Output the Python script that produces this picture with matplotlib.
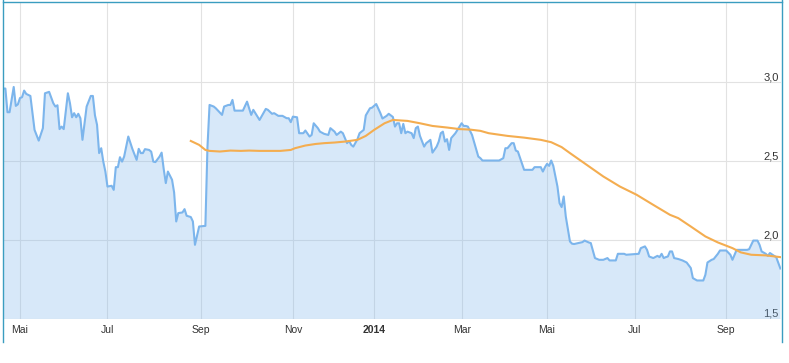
import numpy as np
import matplotlib
matplotlib.use("Agg")
import matplotlib.pyplot as plt
from matplotlib.lines import Line2D

plt.rcParams['font.family'] = ['Liberation Sans', 'DejaVu Sans']

# x axis runs in trading sessions (Xetra calendar) counted from the first bar
start = '2013-04-19'
holidays = ['2013-05-01', '2013-12-24', '2013-12-25', '2013-12-26', '2013-12-31',
            '2014-01-01', '2014-04-18', '2014-04-21', '2014-05-01']

month_starts = ['2013-05-01', '2013-07-01', '2013-09-01', '2013-11-01', '2014-01-01',
                '2014-03-01', '2014-05-01', '2014-07-01', '2014-09-01']
month_labels = ['Mai', 'Jul', 'Sep', 'Nov', '2014', 'Mar', 'Mai', 'Jul', 'Sep']

y_ticks = [1.5, 2.0, 2.5, 3.0]

# (session, close)
close = [
    (0, 2.96), (1, 2.96), (2, 2.81), (3, 2.81), (5, 2.97), (6, 2.85), (7, 2.86), (8, 2.90),
    (9, 2.905), (10, 2.947), (11, 2.926), (13, 2.913), (15, 2.698), (17, 2.63), (19, 2.709),
    (20, 2.93), (22, 2.939), (24, 2.867), (25, 2.846), (26, 2.854), (27, 2.703), (28, 2.719),
    (29, 2.703), (31, 2.93), (32, 2.867), (33, 2.778), (34, 2.804), (35, 2.778), (36, 2.80),
    (37, 2.772), (38, 2.635), (40, 2.846), (42, 2.913), (43, 2.913), (44, 2.79), (45, 2.73),
    (46, 2.551), (47, 2.582), (48, 2.497), (49, 2.434), (50, 2.339), (52, 2.344), (53, 2.318),
    (54, 2.462), (55, 2.462), (56, 2.525), (57, 2.497), (58, 2.529), (60, 2.656), (62, 2.576),
    (64, 2.508), (65, 2.578), (66, 2.551), (67, 2.551), (68, 2.576), (70, 2.571), (71, 2.56),
    (72, 2.497), (73, 2.494), (75, 2.529), (76, 2.554), (77, 2.45), (78, 2.361), (79, 2.434),
    (81, 2.382), (82, 2.301), (83, 2.118), (84, 2.171), (86, 2.175), (87, 2.196), (88, 2.154),
    (90, 2.146), (91, 2.118), (92, 1.97), (94, 2.086), (97, 2.09), (98, 2.59), (99, 2.856),
    (101, 2.846), (102, 2.835), (105, 2.793), (106, 2.846), (108, 2.856), (109, 2.856),
    (110, 2.888), (111, 2.82), (115, 2.82), (117, 2.877), (119, 2.793), (120, 2.825),
    (122, 2.782), (123, 2.761), (126, 2.831), (127, 2.825), (129, 2.80), (130, 2.804),
    (132, 2.787), (134, 2.787), (136, 2.772), (137, 2.772), (138, 2.747), (139, 2.782),
    (141, 2.778), (142, 2.677), (144, 2.677), (145, 2.694), (147, 2.656), (148, 2.666),
    (149, 2.74), (151, 2.709), (152, 2.687), (154, 2.673), (156, 2.666), (157, 2.709),
    (159, 2.687), (160, 2.666), (162, 2.687), (163, 2.677), (165, 2.614), (166, 2.628),
    (167, 2.603), (168, 2.592), (170, 2.639), (171, 2.677), (173, 2.698), (174, 2.79),
    (176, 2.835), (177, 2.839), (179, 2.862), (181, 2.804), (182, 2.77), (184, 2.787),
    (185, 2.80), (187, 2.78), (188, 2.719), (189, 2.74), (190, 2.74), (191, 2.677),
    (192, 2.736), (193, 2.677), (194, 2.687), (196, 2.677), (197, 2.646), (198, 2.709),
    (199, 2.719), (200, 2.66), (202, 2.592), (203, 2.614), (204, 2.624), (205, 2.635),
    (206, 2.554), (208, 2.592), (209, 2.624), (210, 2.677), (211, 2.687), (212, 2.624),
    (213, 2.639), (214, 2.571), (215, 2.646), (217, 2.677), (218, 2.698), (220, 2.74),
    (221, 2.723), (222, 2.723), (223, 2.719), (225, 2.666), (226, 2.62), (228, 2.529),
    (229, 2.519), (230, 2.504), (238, 2.504), (240, 2.519), (241, 2.582), (242, 2.582),
    (244, 2.614), (245, 2.614), (246, 2.567), (247, 2.561), (250, 2.445), (254, 2.445),
    (255, 2.462), (258, 2.462), (259, 2.434), (260, 2.462), (261, 2.483), (262, 2.47),
    (263, 2.504), (264, 2.47), (266, 2.339), (267, 2.234), (268, 2.209), (269, 2.276),
    (270, 2.149), (272, 1.991), (273, 1.977), (274, 1.975), (276, 1.981), (278, 1.987),
    (279, 1.997), (281, 1.985), (282, 1.981), (284, 1.886), (286, 1.875), (288, 1.875),
    (290, 1.886), (291, 1.871), (294, 1.871), (295, 1.913), (298, 1.913), (299, 1.907),
    (305, 1.913), (306, 1.949), (308, 1.96), (309, 1.938), (310, 1.896), (312, 1.886),
    (314, 1.90), (315, 1.892), (316, 1.913), (317, 1.886), (318, 1.892), (319, 1.896),
    (320, 1.928), (321, 1.928), (322, 1.886), (324, 1.88), (326, 1.871), (328, 1.858),
    (330, 1.823), (331, 1.759), (333, 1.744), (336, 1.744), (337, 1.78), (338, 1.858),
    (340, 1.875), (341, 1.88), (343, 1.913), (344, 1.934), (347, 1.934), (349, 1.907),
    (350, 1.875), (352, 1.938), (357, 1.938), (358, 1.942), (360, 1.997), (362, 1.997),
    (363, 1.97), (364, 1.928), (366, 1.913), (367, 1.90), (368, 1.918), (370, 1.90),
    (371, 1.892), (373, 1.82),
]

# moving average (orange)
ma_session = [90, 94, 97, 99, 104, 109, 114, 118, 123, 128, 133, 138, 140, 145, 150, 154,
              159, 164, 170, 174, 178, 183, 187, 194, 200, 206, 213, 219, 224, 229, 233,
              242, 250, 258, 263, 268, 272, 280, 288, 296, 304, 312, 320, 324, 330, 337,
              343, 350, 354, 359, 366, 373]
ma_value = [2.628, 2.603, 2.571, 2.565, 2.561, 2.567, 2.565, 2.567, 2.565, 2.565, 2.565,
            2.571, 2.582, 2.599, 2.609, 2.614, 2.618, 2.624, 2.635, 2.66, 2.698, 2.74,
            2.761, 2.755, 2.74, 2.723, 2.713, 2.703, 2.70, 2.692, 2.677, 2.66, 2.649,
            2.635, 2.62, 2.589, 2.551, 2.477, 2.403, 2.339, 2.287, 2.223, 2.16, 2.139,
            2.086, 2.023, 1.985, 1.949, 1.922, 1.907, 1.903, 1.892]

blue = '#7cb5ec'
orange = '#f4ad50'
grid = '#e2e2e2'

fig = plt.figure(figsize=(7.89, 3.63), dpi=100)
ax = fig.add_axes([3.3 / 789, 44.0 / 363, 777.7 / 789, 315.7 / 363])

sess = np.array([p[0] for p in close])
price = np.array([p[1] for p in close])

ax.fill_between(sess, price, 0, color=blue, alpha=0.3, linewidth=0, zorder=2)
ax.plot(sess, price, color=blue, lw=1.5, zorder=3, solid_joinstyle='round')
ax.plot(ma_session, ma_value, color=orange, lw=1.5, zorder=4)

xt = np.busday_count(start, month_starts, holidays=holidays)
ax.set_xticks(xt)
ax.set_xticklabels(month_labels)
for lab in ax.get_xticklabels():
    if lab.get_text() == '2014':
        lab.set_fontweight('bold')
ax.set_yticks(y_ticks)
ax.set_yticklabels([('%.1f' % v).replace('.', ',') for v in y_ticks])

ax.set_xlim(0, 373.3)
ax.set_ylim(1.5, 3.5)

ax.yaxis.tick_right()
ax.tick_params(axis='both', length=0, labelcolor='#333333')
ax.tick_params(axis='x', pad=4.5, labelsize=7.5)
ax.tick_params(axis='y', pad=-1.5, labelsize=8)
for lab in ax.get_yticklabels():
    lab.set_horizontalalignment('right')
    lab.set_verticalalignment('bottom')

ax.grid(True, color=grid, lw=0.8, zorder=1)
ax.set_axisbelow(True)
for s in ax.spines.values():
    s.set_visible(False)

# frame of the chart container
bc = '#3a9dc0'
fig.add_artist(Line2D([3 / 789, 3 / 789], [1 - 342 / 363, 1], color=bc, lw=1))
fig.add_artist(Line2D([781.5 / 789, 781.5 / 789], [1 - 342 / 363, 1], color=bc, lw=1))
fig.add_artist(Line2D([3 / 789, 781.5 / 789], [1 - 1.5 / 363, 1 - 1.5 / 363], color=bc, lw=1))

fig.savefig('out.png', dpi=100)
